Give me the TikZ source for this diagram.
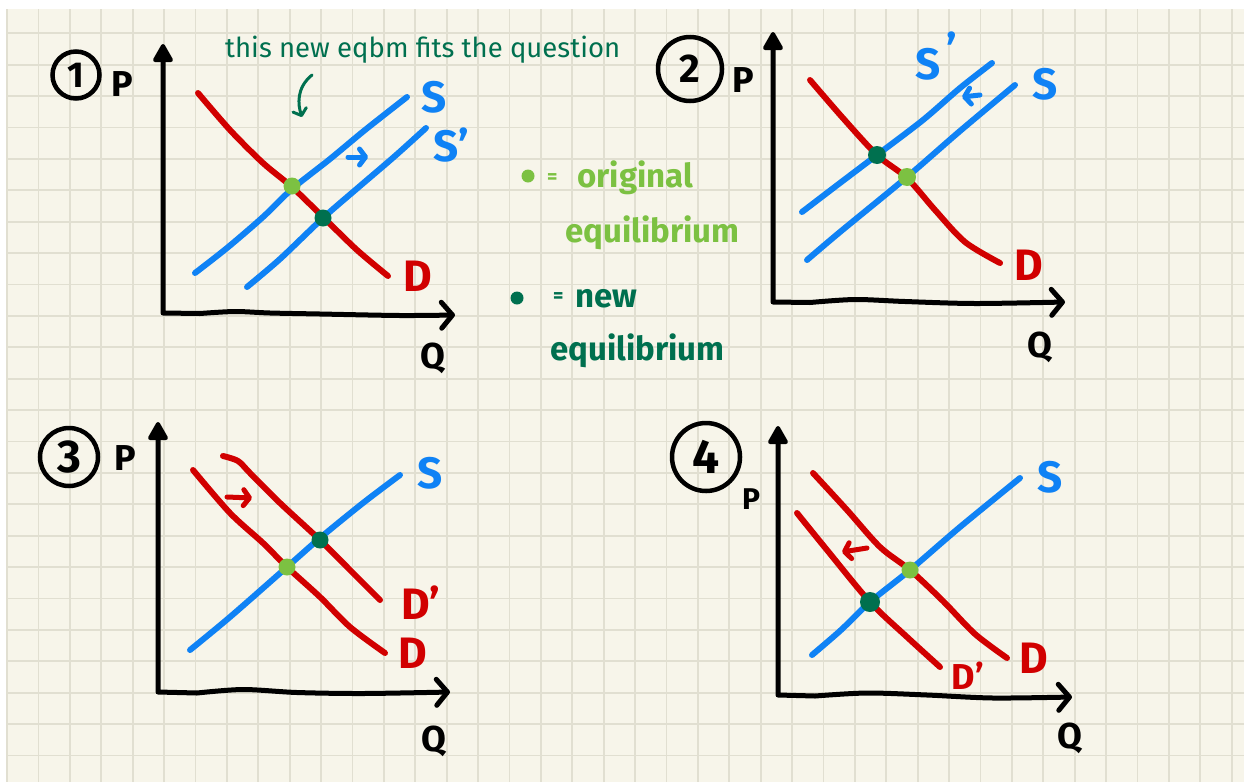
\documentclass[tikz,border=0pt]{standalone}
\usepackage{fontspec}
\setmainfont{Fira Sans}
\usepackage{tikz}
\usetikzlibrary{arrows.meta}
\usepackage{xcolor}

\definecolor{paper}{HTML}{F7F5EA}
\definecolor{gridc}{HTML}{E1DFD1}
\definecolor{dred}{HTML}{D10000}
\definecolor{sblue}{HTML}{0F82F5}
\definecolor{oldeq}{HTML}{7CC142}
\definecolor{neweq}{HTML}{00704F}

\begin{document}
\begin{tikzpicture}[x=1pt,y=-1pt,
    gridline/.style={gridc, line width=1.8pt},
    axis/.style={line width=5pt, line cap=round, line join=round,
      -{Straight Barb[length=11pt,width=26pt,line cap=round,line join=round]}},
    ptip/.style={line width=4pt, line join=round},
    dcurve/.style={dred, line width=6pt, line cap=round},
    scurve/.style={sblue, line width=6pt, line cap=round},
    shiftarr/.style={line width=5pt, line cap=round, -{Straight Barb[length=6pt,width=16pt,line cap=round,line join=round]}},
    numc/.style={circle, draw, line width=4.5pt, inner sep=0pt, font=\bfseries},
    lab/.style={inner sep=0pt, font=\fontsize{44}{44}\selectfont\bfseries},
    axlab/.style={inner sep=0pt, font=\fontsize{36}{36}\selectfont\bfseries},
    olddot/.style={circle, fill=oldeq, inner sep=0pt, minimum size=17pt},
    newdot/.style={circle, fill=neweq, inner sep=0pt, minimum size=17pt},
    legtext/.style={inner sep=0pt, anchor=base west, font=\fontsize{33}{33}\selectfont\bfseries}]

    % 纸面和方格
    \useasboundingbox (0,0) rectangle (1244,782);
    \fill[white] (0,0) rectangle (1244,782);
    \fill[paper] (7,9) rectangle (1244,782);
    \foreach \i in {0,...,39} \draw[gridline] ({7+31.4*\i},9) -- ({7+31.4*\i},782);
    \foreach \j in {0,...,23} \draw[gridline] (7,{33.3+31.4*\j}) -- (1244,{33.3+31.4*\j});

    % 图1: 供给右移
    \node[numc, minimum size=47pt, font=\fontsize{36}{36}\selectfont\bfseries] (n1) at (76,75) {1};
    \node[axlab] (p1) at (122,84) {P}; \node[axlab] (q1) at (433,358) {Q};
    \draw[axis] (163,55) -- (163,313) -- plot[smooth] coordinates {(200,313.5) (235,311.5) (270,313) (320,314) (400,315.5) (455,315)};
    \filldraw[ptip] (155,60) -- (163,46) -- (171,60) -- cycle;
    \draw[dcurve] plot[smooth] coordinates {(198,93) (230,130) (263,163) (292,187) (323,217) (357,250) (388,276)};
    \draw[scurve] plot[smooth] coordinates {(195,273) (227,248) (263,217) (292,189) (330,159) (365,130) (407,97)};
    \draw[scurve] plot[smooth] coordinates {(247,287) (280,259) (323,218) (360,186) (395,156) (426,128)};
    \draw[shiftarr, sblue] (348,157) -- (368,157);
    \node[lab, sblue] (s1) at (434,97) {S}; \node[lab, sblue] (s1p) at (451,145) {S'};
    \node[lab, dred] (d1) at (418,276) {D};
    \node[olddot] (e1old) at (292,186) {}; \node[newdot] (e1new) at (323,218) {};

    % 说明文字
    \node[inner sep=0pt, anchor=base west, neweq, font=\fontsize{27.5}{27.5}\selectfont] (hint) at (225,57) {this new eqbm fits the question};
    \coordinate (hs) at (312,75); \coordinate (he) at (302,117);
    \draw[neweq, line width=3pt, line cap=round, -{Straight Barb[length=6pt,width=14pt,line cap=round,line join=round]}] (hs) .. controls (296,88) and (298,105) .. (he);

    % 图例
    \node[circle, fill=oldeq, inner sep=0pt, minimum size=13pt] (legold) at (528,176) {};
    \node[legtext, oldeq, font=\fontsize{20}{20}\selectfont\bfseries] (eqold) at (547,183) {=};
    \node[legtext, oldeq] (t1) at (577,187) {original};
    \node[legtext, oldeq] (t2) at (565,242) {equilibrium};
    \node[circle, fill=neweq, inner sep=0pt, minimum size=13pt] (legnew) at (517,298) {};
    \node[legtext, neweq, font=\fontsize{20}{20}\selectfont\bfseries] (eqnew) at (553,302) {=};
    \node[legtext, neweq] (t3) at (575,307) {new};
    \node[legtext, neweq] (t4) at (550,360) {equilibrium};

    % 图2: 供给左移
    \node[numc, minimum size=64pt, font=\fontsize{40}{40}\selectfont\bfseries] (n2) at (690,69) {2};
    \node[axlab] (p2) at (743,80) {P}; \node[axlab] (q2) at (1040,347) {Q};
    \draw[axis] (773,43) -- (773,302) -- plot[smooth] coordinates {(810,302.5) (855,299.5) (905,301.5) (975,303.5) (1065,302)};
    \filldraw[ptip] (765,48) -- (773,34) -- (781,48) -- cycle;
    \draw[dcurve] plot[smooth] coordinates {(810,80) (842,117) (877,155) (907,178) (935,210) (965,242) (1000,263)};
    \draw[scurve] plot[smooth] coordinates {(802,212) (840,183) (877,155) (923,120) (960,88) (992,63)};
    \draw[scurve] plot[smooth] coordinates {(807,260) (840,232) (907,177) (960,131) (1015,85)};
    \draw[shiftarr, sblue] (980,95) -- (962,97);
    \node[lab, sblue] (s2p) at (936,56) {S\raisebox{.3em}{\hspace{6pt}'}};
    \node[lab, sblue] (s2) at (1045,84) {S}; \node[lab, dred] (d2) at (1029,265) {D};
    \node[newdot, minimum size=18pt] (e2new) at (877,155) {}; \node[olddot, minimum size=18pt] (e2old) at (907,177) {};

    % 图3: 需求右移
    \node[numc, minimum size=58pt, font=\fontsize{46}{46}\selectfont\bfseries] (n3) at (69,457) {3};
    \node[axlab] (p3) at (125,458) {P}; \node[axlab] (q3) at (434,741) {Q};
    \draw[axis] (158,433) -- (158,692) -- plot[smooth] coordinates {(197,693) (243,689.5) (297,692.5) (363,693.5) (450,692)};
    \filldraw[ptip] (150,438) -- (158,424) -- (166,438) -- cycle;
    \draw[dcurve] plot[smooth] coordinates {(193,470) (230,513) (263,543) (287,567) (320,597) (350,627) (385,653)};
    \draw[dcurve] plot[smooth] coordinates {(223,456) (238,461) (250,473) (280,503) (320,540) (350,570) (380,600)};
    \draw[scurve] plot[smooth] coordinates {(190,650) (230,617) (287,567) (320,538) (363,503) (400,475)};
    \draw[shiftarr, dred] (227,497) -- (252,498);
    \node[lab, sblue] (s3) at (430,473) {S};
    \node[lab, dred] (d3p) at (421,603) {D'}; \node[lab, dred] (d3) at (413,653) {D};
    \node[olddot] (e3old) at (287,567) {}; \node[newdot] (e3new) at (320,540) {};

    % 图4: 需求左移
    \node[numc, minimum size=68pt, font=\fontsize{48}{48}\selectfont\bfseries] (n4) at (706,457) {4};
    \node[axlab, font=\fontsize{30}{30}\selectfont\bfseries] (p4) at (751,499) {P}; \node[axlab] (q4) at (1070,738) {Q};
    \draw[axis] (778,437) -- (778,695) -- plot[smooth] coordinates {(815,696) (867,693) (927,695) (993,698) (1072,697)};
    \filldraw[ptip] (770,442) -- (778,428) -- (786,442) -- cycle;
    \draw[dcurve] plot[smooth] coordinates {(813,473) (847,510) (880,547) (910,570) (943,601) (975,634) (1007,658)};
    \draw[dcurve] plot[smooth] coordinates {(797,513) (827,550) (870,602) (907,637) (940,667)};
    \draw[scurve] plot[smooth] coordinates {(812,655) (841,630) (870,602) (910,570) (960,527) (1020,478)};
    \draw[shiftarr, dred] (867,548) -- (842,552);
    \node[lab, sblue] (s4) at (1050,477) {S}; \node[lab, dred] (d4) at (1034,658) {D};
    \node[lab, dred, font=\fontsize{36}{36}\selectfont\bfseries] (d4p) at (968,676) {D'};
    \node[olddot] (e4old) at (910,570) {}; \node[newdot, minimum size=20pt] (e4new) at (870,602) {};
\end{tikzpicture}
\end{document}
